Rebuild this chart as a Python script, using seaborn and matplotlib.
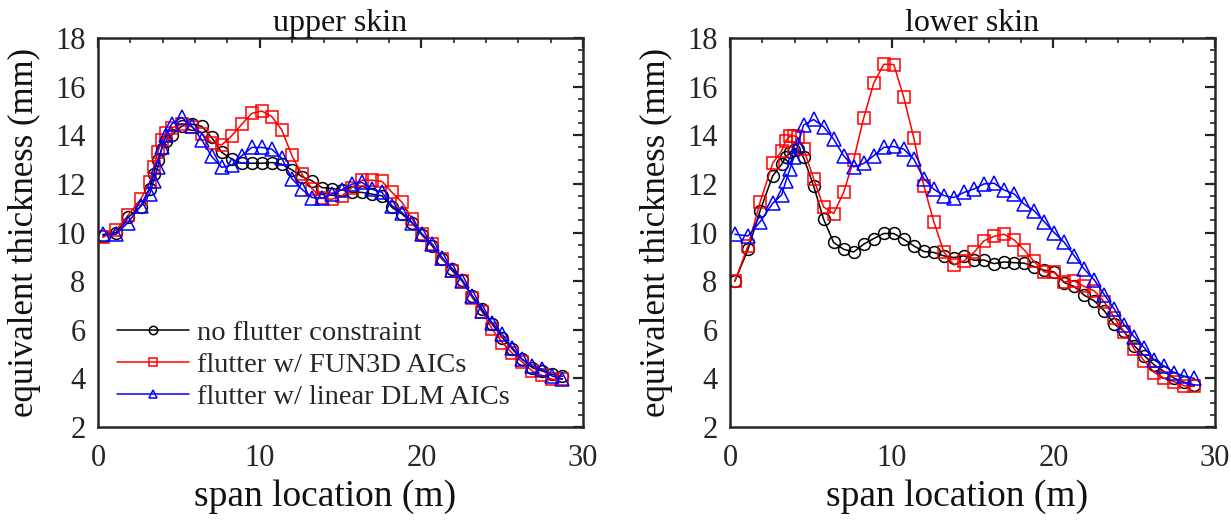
import numpy as np
import pandas as pd
import matplotlib
matplotlib.use("Agg")
import matplotlib.pyplot as plt
from matplotlib.ticker import MultipleLocator
import seaborn as sns

# ---------------- data ----------------
span_inner = [0.3, 1.12, 1.86, 2.64, 3.2, 3.45, 3.7, 3.95, 4.2, 4.55]
span_step = 0.62
span_outer_start = 5.17
span_outer_n = 39
span = span_inner + [round(span_outer_start + span_step * k, 2) for k in range(span_outer_n)]

upper_none = [9.86, 10.0, 10.62, 11.07, 11.78, 12.4, 13.0, 13.45, 13.75, 14.01,
              14.37, 14.46, 14.37, 13.91, 13.3, 13.02, 12.85, 12.85, 12.85, 12.88,
              12.81, 12.58, 12.3, 12.13, 11.85, 11.81, 11.75, 11.65, 11.65, 11.58,
              11.51, 11.03, 10.76, 10.39, 9.89, 9.45, 8.9, 8.52, 8.05, 7.4,
              6.85, 6.22, 5.68, 5.2, 4.78, 4.44, 4.3, 4.16, 4.09]
upper_fun3d = [9.8, 10.1, 10.71, 11.37, 12.06, 12.7, 13.3, 13.8, 14.1, 14.3,
               14.45, 14.35, 14.07, 13.7, 13.6, 13.98, 14.45, 14.9, 15.0, 14.77,
               14.22, 13.17, 12.4, 11.81, 11.4, 11.37, 11.51, 11.85, 12.15, 12.15,
               12.1, 11.65, 11.24, 10.55, 9.93, 9.52, 8.93, 8.42, 8.0, 7.32,
               6.73, 6.02, 5.47, 5.03, 4.67, 4.3, 4.12, 3.96, 3.96]
upper_dlm = [9.93, 9.93, 10.41, 11.1, 11.58, 12.13, 12.68, 13.5, 14.0, 14.46,
             14.74, 14.39, 13.82, 13.13, 12.68, 12.77, 13.16, 13.5, 13.5, 13.43,
             13.05, 12.22, 11.78, 11.44, 11.41, 11.58, 11.76, 11.99, 12.06, 11.78,
             11.65, 11.1, 10.82, 10.41, 9.93, 9.52, 8.97, 8.46, 8.0, 7.39,
             6.77, 6.29, 5.81, 5.26, 4.78, 4.5, 4.37, 4.09, 3.98]

lower_none = [8.0, 9.31, 10.89, 12.33, 12.81, 13.1, 13.3, 13.4, 13.43, 13.09,
              11.92, 10.55, 9.59, 9.31, 9.20, 9.52, 9.75, 9.96, 9.96, 9.72,
              9.45, 9.22, 9.18, 9.04, 8.97, 9.04, 8.86, 8.87, 8.72, 8.79,
              8.76, 8.74, 8.6, 8.45, 8.38, 7.94, 7.78, 7.42, 7.19, 6.78,
              6.23, 5.93, 5.34, 4.93, 4.55, 4.27, 4.0, 3.84, 3.73]
lower_fun3d = [8.0, 9.45, 11.24, 12.85, 13.36, 13.77, 13.95, 13.98, 13.91, 13.45,
               12.22, 11.05, 10.78, 11.65, 12.99, 14.71, 16.14, 16.92, 16.91, 15.56,
               13.89, 11.92, 10.44, 9.2, 8.67, 8.83, 9.18, 9.66, 9.84, 9.93,
               9.70, 9.29, 8.81, 8.38, 8.36, 7.97, 8.01, 7.78, 7.60, 7.15,
               6.5, 5.91, 5.2, 4.72, 4.24, 4.0, 3.86, 3.69, 3.67]
lower_dlm = [9.93, 9.86, 10.44, 11.2, 11.55, 12.1, 12.6, 13.1, 13.6, 14.42,
             14.65, 14.35, 13.84, 13.16, 12.7, 12.84, 13.16, 13.5, 13.54, 13.43,
             13.02, 12.22, 11.78, 11.52, 11.44, 11.65, 11.79, 12.0, 12.03, 11.75,
             11.59, 11.17, 10.9, 10.45, 10.0, 9.6, 9.05, 8.5, 8.05, 7.45,
             6.85, 6.2, 5.71, 5.26, 4.75, 4.5, 4.23, 4.09, 4.0]

series_labels = ["no flutter constraint", "flutter w/ FUN3D AICs", "flutter w/ linear DLM AICs"]
series_colors = ["#000000", "#ff0000", "#0000ff"]
series_markers = ["o", "s", "^"]
panel_titles = ["upper skin", "lower skin"]
xlabel_text = "span location (m)"
ylabel_text = "equivalent thickness (mm)"

# ---------------- style ----------------
sns.set_style("white")
plt.rcParams["font.family"] = ["Liberation Serif", "DejaVu Serif"]

fig = plt.figure(figsize=(12.31, 5.21), dpi=100)
ax_l = fig.add_axes([0.0796, 0.1804, 0.394, 0.7466])
ax_r = fig.add_axes([0.593, 0.1804, 0.394, 0.7466])

panels = [
    (ax_l, [upper_none, upper_fun3d, upper_dlm]),
    (ax_r, [lower_none, lower_fun3d, lower_dlm]),
]

axis_col = "#262626"
for i, (ax, data) in enumerate(panels):
    for vals, lab, col, mk in zip(data, series_labels, series_colors, series_markers):
        df = pd.DataFrame({"span": span, "t": vals})
        sns.lineplot(data=df, x="span", y="t", ax=ax, color=col, marker=mk,
                     markersize=8.5 if mk != "^" else 9.5,
                     markerfacecolor="none", markeredgecolor=col, markeredgewidth=1.1,
                     linewidth=1.1, label=lab, estimator=None, legend=False)
    ax.set_xlim(0, 30)
    ax.set_ylim(2, 18)
    ax.xaxis.set_major_locator(MultipleLocator(10))
    ax.xaxis.set_minor_locator(MultipleLocator(2))
    ax.yaxis.set_major_locator(MultipleLocator(2))
    ax.yaxis.set_minor_locator(MultipleLocator(0.5))
    ax.tick_params(which="both", direction="in", top=True, right=True,
                   color=axis_col, labelcolor="#262626")
    ax.tick_params(which="major", length=7, width=1.6, labelsize=22)
    ax.tick_params(axis="x", which="major", pad=12)
    ax.tick_params(axis="y", which="major", pad=9)
    ax.tick_params(which="minor", length=3.5, width=1.2)
    for sp in ax.spines.values():
        sp.set_linewidth(1.8)
        sp.set_color(axis_col)
    ax.set_title(panel_titles[i], fontsize=23, pad=5, color="#111111")
    ax.set_xlabel(xlabel_text, fontsize=27, color="#111111")
    ax.set_ylabel(ylabel_text, fontsize=25, color="#111111")
    ax.xaxis.set_label_coords(0.468, -0.135)
    ax.yaxis.set_label_coords(-0.118, 0.5)

handles, labels = ax_l.get_legend_handles_labels()
leg = ax_l.legend(handles, labels, loc="lower left", bbox_to_anchor=(0.005, 0.0),
                  frameon=False, fontsize=20.5, handlelength=2.5, handletextpad=0.3,
                  labelspacing=0.22, borderaxespad=0.2)
for h in leg.legend_handles:
    h.set_markersize(6)

fig.savefig("out.png", dpi=100)
